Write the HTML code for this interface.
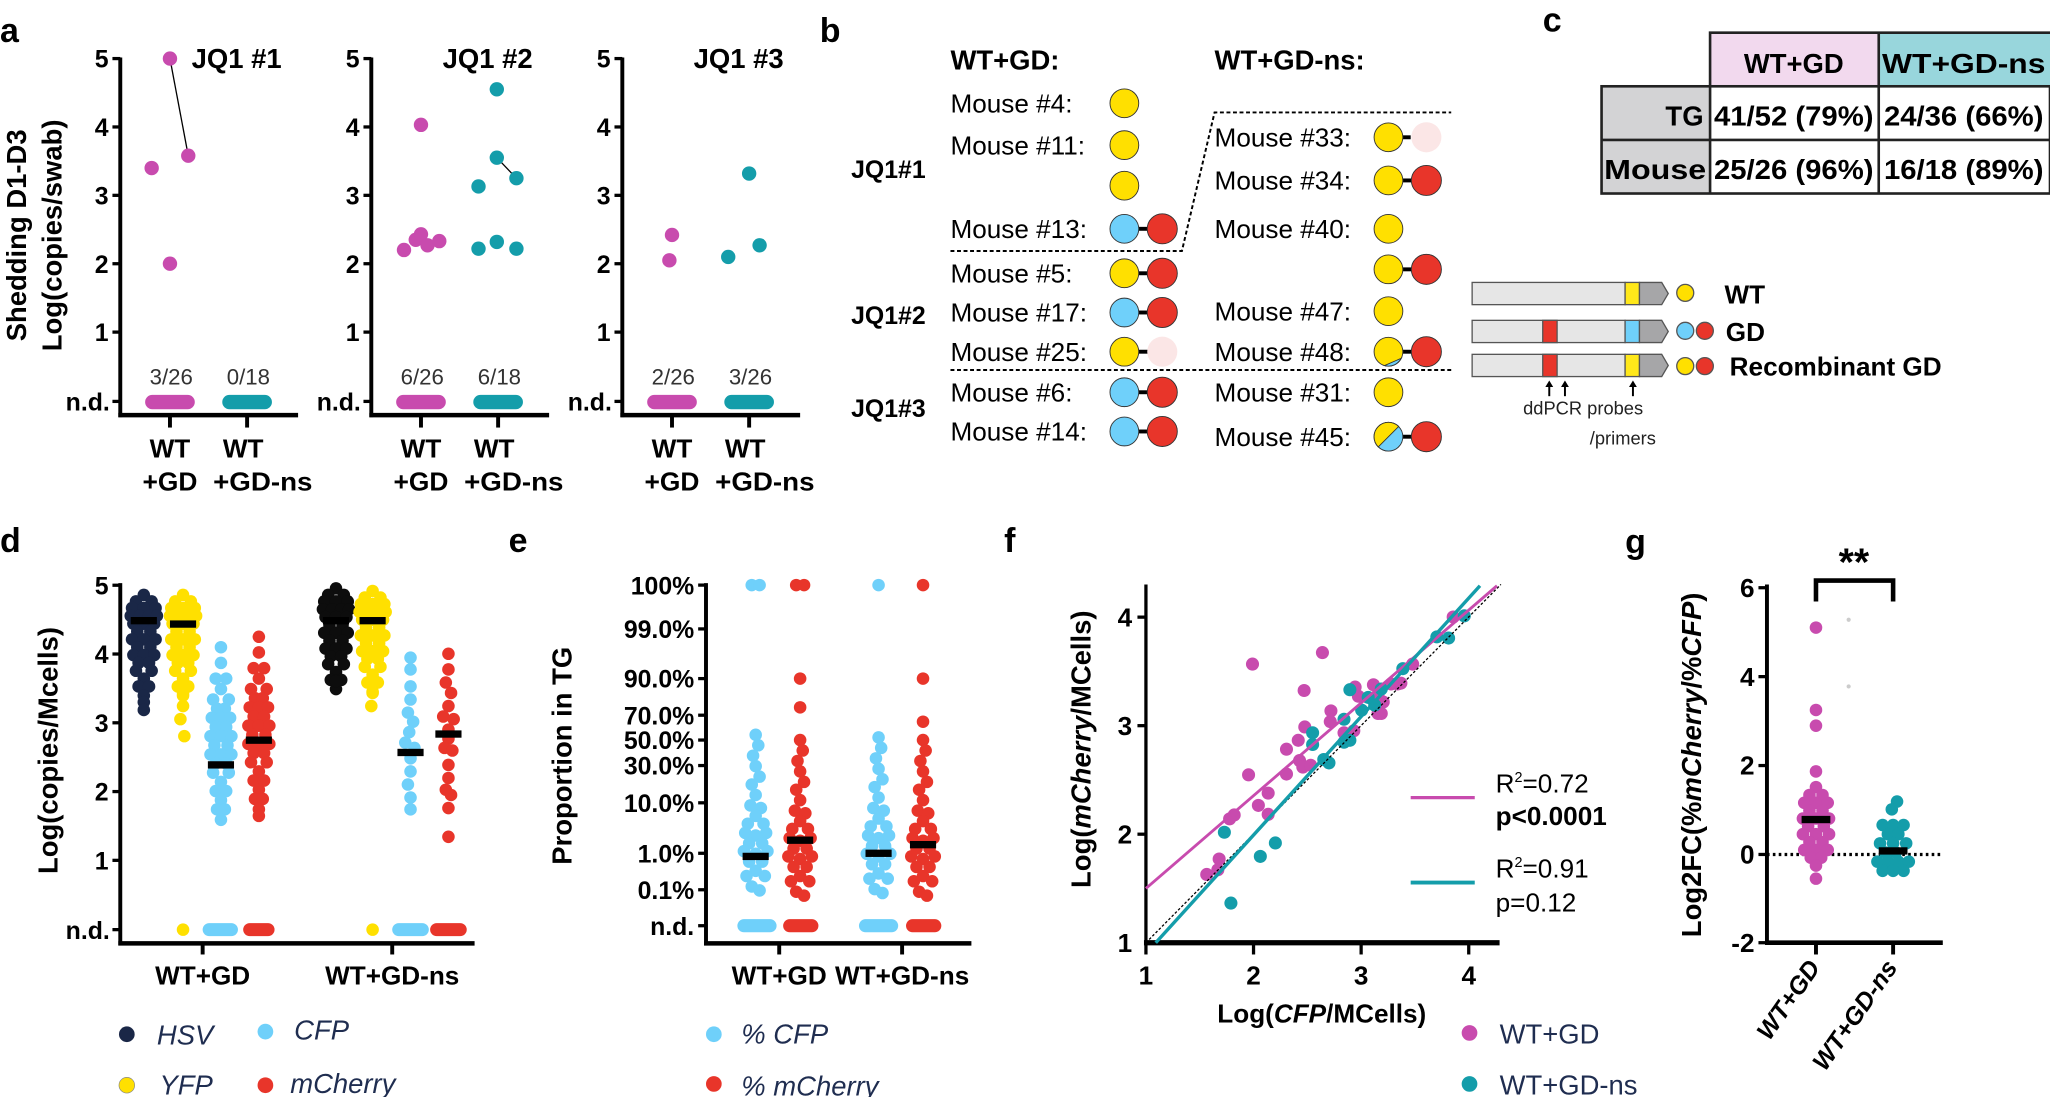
<!DOCTYPE html>
<html><head><meta charset="utf-8"><style>
html,body{margin:0;padding:0;background:#fff;}
svg{display:block;font-family:"Liberation Sans",Arial,sans-serif;}
.b{font-weight:bold;}
</style></head><body>
<svg width="2050" height="1097" viewBox="0 0 1568 839" preserveAspectRatio="none" xmlns="http://www.w3.org/2000/svg" xmlns:xlink="http://www.w3.org/1999/xlink">
<defs>
<g id="dense">
<circle cx="0" cy="0" r="4.8"/><circle cx="-6" cy="5" r="4.8"/><circle cx="6" cy="5" r="4.8"/><circle cx="-9" cy="10" r="4.8"/><circle cx="0" cy="10" r="4.8"/><circle cx="9" cy="10" r="4.8"/><circle cx="-10" cy="16" r="4.8"/><circle cx="-3" cy="16" r="4.8"/><circle cx="4" cy="16" r="4.8"/><circle cx="10" cy="16" r="4.8"/><circle cx="-8" cy="22" r="4.8"/><circle cx="0" cy="22" r="4.8"/><circle cx="8" cy="22" r="4.8"/><circle cx="-5" cy="28" r="4.8"/><circle cx="5" cy="28" r="4.8"/><circle cx="-9" cy="34" r="4.8"/><circle cx="0" cy="34" r="4.8"/><circle cx="9" cy="34" r="4.8"/><circle cx="-5" cy="40" r="4.8"/><circle cx="5" cy="40" r="4.8"/><circle cx="-8" cy="46" r="4.8"/><circle cx="0" cy="46" r="4.8"/><circle cx="8" cy="46" r="4.8"/><circle cx="-4" cy="52" r="4.8"/><circle cx="4" cy="52" r="4.8"/><circle cx="-6" cy="58" r="4.8"/><circle cx="6" cy="58" r="4.8"/><circle cx="0" cy="64" r="4.8"/><circle cx="-4" cy="70" r="4.8"/><circle cx="4" cy="70" r="4.8"/><circle cx="0" cy="77" r="4.8"/>
</g>
<g id="wide">
<circle cx="0" cy="0" r="4.8"/><circle cx="0" cy="12" r="4.8"/><circle cx="-4" cy="24" r="4.8"/><circle cx="4" cy="24" r="4.8"/><circle cx="0" cy="32" r="4.8"/><circle cx="-6" cy="40" r="4.8"/><circle cx="6" cy="40" r="4.8"/><circle cx="-3" cy="47" r="4.8"/><circle cx="3" cy="47" r="4.8"/><circle cx="-7" cy="54" r="4.8"/><circle cx="0" cy="54" r="4.8"/><circle cx="7" cy="54" r="4.8"/><circle cx="-4" cy="61" r="4.8"/><circle cx="4" cy="61" r="4.8"/><circle cx="-8" cy="68" r="4.8"/><circle cx="0" cy="68" r="4.8"/><circle cx="8" cy="68" r="4.8"/><circle cx="-5" cy="75" r="4.8"/><circle cx="5" cy="75" r="4.8"/><circle cx="-8" cy="82" r="4.8"/><circle cx="0" cy="82" r="4.8"/><circle cx="8" cy="82" r="4.8"/><circle cx="-4" cy="89" r="4.8"/><circle cx="4" cy="89" r="4.8"/><circle cx="-6" cy="96" r="4.8"/><circle cx="6" cy="96" r="4.8"/><circle cx="0" cy="103" r="4.8"/><circle cx="-4" cy="110" r="4.8"/><circle cx="4" cy="110" r="4.8"/><circle cx="0" cy="117" r="4.8"/><circle cx="-3" cy="124" r="4.8"/><circle cx="3" cy="124" r="4.8"/><circle cx="0" cy="132" r="4.8"/>
</g>
<g id="ep">
<circle cx="0" cy="0" r="4.8"/><circle cx="2" cy="8" r="4.8"/><circle cx="-2" cy="16" r="4.8"/><circle cx="0" cy="24" r="4.8"/><circle cx="3" cy="32" r="4.8"/><circle cx="-3" cy="38" r="4.8"/><circle cx="0" cy="46" r="4.8"/><circle cx="-4" cy="54" r="4.8"/><circle cx="4" cy="56" r="4.8"/><circle cx="0" cy="62" r="4.8"/><circle cx="-6" cy="68" r="4.8"/><circle cx="6" cy="68" r="4.8"/><circle cx="-8" cy="75" r="4.8"/><circle cx="0" cy="77" r="4.8"/><circle cx="8" cy="75" r="4.8"/><circle cx="-5" cy="83" r="4.8"/><circle cx="5" cy="83" r="4.8"/><circle cx="-9" cy="89" r="4.8"/><circle cx="0" cy="91" r="4.8"/><circle cx="9" cy="89" r="4.8"/><circle cx="-5" cy="97" r="4.8"/><circle cx="5" cy="97" r="4.8"/><circle cx="0" cy="104" r="4.8"/><circle cx="-7" cy="108" r="4.8"/><circle cx="7" cy="108" r="4.8"/><circle cx="-3" cy="116" r="4.8"/><circle cx="3" cy="119" r="4.8"/>
</g>
<g id="gp">
<circle cx="0" cy="0" r="4.8"/><circle cx="-5" cy="6" r="4.8"/><circle cx="5" cy="6" r="4.8"/><circle cx="-9" cy="12" r="4.8"/><circle cx="0" cy="12" r="4.8"/><circle cx="9" cy="12" r="4.8"/><circle cx="-5" cy="18" r="4.8"/><circle cx="5" cy="18" r="4.8"/><circle cx="-10" cy="24" r="4.8"/><circle cx="0" cy="24" r="4.8"/><circle cx="10" cy="24" r="4.8"/><circle cx="-6" cy="30" r="4.8"/><circle cx="6" cy="30" r="4.8"/><circle cx="-10" cy="36" r="4.8"/><circle cx="0" cy="36" r="4.8"/><circle cx="10" cy="36" r="4.8"/><circle cx="-5" cy="42" r="4.8"/><circle cx="5" cy="42" r="4.8"/><circle cx="-9" cy="48" r="4.8"/><circle cx="0" cy="48" r="4.8"/><circle cx="9" cy="48" r="4.8"/><circle cx="-4" cy="54" r="4.8"/><circle cx="4" cy="54" r="4.8"/><circle cx="0" cy="60" r="4.8"/><circle cx="0" cy="70" r="4.8"/>
</g>
</defs>

<!-- panel letters -->
<g class="b" font-size="26">
<text x="0" y="32">a</text><text x="627" y="32">b</text><text x="1180" y="24">c</text>
<text x="0" y="422">d</text><text x="389" y="422">e</text><text x="768" y="422">f</text><text x="1243" y="423">g</text>
</g>

<!-- ================= panel a ================= -->
<g class="b" font-size="21" text-anchor="middle">
<text x="20" y="180" transform="rotate(-90 20 180)">Shedding D1-D3</text>
<text x="47" y="180" transform="rotate(-90 47 180)">Log(copies/swab)</text>
<text x="181" y="52">JQ1 #1</text><text x="373" y="52">JQ1 #2</text><text x="565" y="52">JQ1 #3</text>
</g>
<g stroke="#000">
<line x1="92" y1="44" x2="92" y2="319" stroke-width="3"/><line x1="90.5" y1="317.5" x2="228" y2="317.5" stroke-width="3.5"/>
<line x1="130" y1="317" x2="130" y2="327" stroke-width="3"/><line x1="189" y1="317" x2="189" y2="327" stroke-width="3"/>
<line x1="284" y1="44" x2="284" y2="319" stroke-width="3"/><line x1="282.5" y1="317.5" x2="420" y2="317.5" stroke-width="3.5"/>
<line x1="322" y1="317" x2="322" y2="327" stroke-width="3"/><line x1="381" y1="317" x2="381" y2="327" stroke-width="3"/>
<line x1="476" y1="44" x2="476" y2="319" stroke-width="3"/><line x1="474.5" y1="317.5" x2="612" y2="317.5" stroke-width="3.5"/>
<line x1="514" y1="317" x2="514" y2="327" stroke-width="3"/><line x1="573" y1="317" x2="573" y2="327" stroke-width="3"/>
<g stroke-width="2.5">
<line x1="86" y1="44.8" x2="92" y2="44.8"/><line x1="86" y1="97.1" x2="92" y2="97.1"/><line x1="86" y1="149.4" x2="92" y2="149.4"/><line x1="86" y1="201.7" x2="92" y2="201.7"/><line x1="86" y1="254" x2="92" y2="254"/><line x1="86" y1="307" x2="92" y2="307"/>
<line x1="278" y1="44.8" x2="284" y2="44.8"/><line x1="278" y1="97.1" x2="284" y2="97.1"/><line x1="278" y1="149.4" x2="284" y2="149.4"/><line x1="278" y1="201.7" x2="284" y2="201.7"/><line x1="278" y1="254" x2="284" y2="254"/><line x1="278" y1="307" x2="284" y2="307"/>
<line x1="470" y1="44.8" x2="476" y2="44.8"/><line x1="470" y1="97.1" x2="476" y2="97.1"/><line x1="470" y1="149.4" x2="476" y2="149.4"/><line x1="470" y1="201.7" x2="476" y2="201.7"/><line x1="470" y1="254" x2="476" y2="254"/><line x1="470" y1="307" x2="476" y2="307"/>
</g>
<line x1="130" y1="44.8" x2="144" y2="119.1" stroke-width="1"/>
<line x1="380" y1="120.6" x2="395" y2="136.3" stroke-width="1"/>
</g>
<g class="b" font-size="19" text-anchor="end">
<text x="83" y="51.8">5</text><text x="83" y="104.1">4</text><text x="83" y="156.4">3</text><text x="83" y="208.7">2</text><text x="83" y="261">1</text><text x="84" y="314">n.d.</text>
<text x="275" y="51.8">5</text><text x="275" y="104.1">4</text><text x="275" y="156.4">3</text><text x="275" y="208.7">2</text><text x="275" y="261">1</text><text x="276" y="314">n.d.</text>
<text x="467" y="51.8">5</text><text x="467" y="104.1">4</text><text x="467" y="156.4">3</text><text x="467" y="208.7">2</text><text x="467" y="261">1</text><text x="468" y="314">n.d.</text>
</g>
<g class="b" font-size="20" text-anchor="middle">
<text x="130" y="350">WT</text><text x="186" y="350">WT</text><text x="130" y="375" textLength="42" lengthAdjust="spacingAndGlyphs">+GD</text><text x="201" y="375" textLength="76" lengthAdjust="spacingAndGlyphs">+GD-ns</text>
<text x="322" y="350">WT</text><text x="378" y="350">WT</text><text x="322" y="375" textLength="42" lengthAdjust="spacingAndGlyphs">+GD</text><text x="393" y="375" textLength="76" lengthAdjust="spacingAndGlyphs">+GD-ns</text>
<text x="514" y="350">WT</text><text x="570" y="350">WT</text><text x="514" y="375" textLength="42" lengthAdjust="spacingAndGlyphs">+GD</text><text x="585" y="375" textLength="76" lengthAdjust="spacingAndGlyphs">+GD-ns</text>
</g>
<g font-size="17" fill="#333" text-anchor="middle">
<text x="131" y="294">3/26</text><text x="190" y="294">0/18</text>
<text x="323" y="294">6/26</text><text x="382" y="294">6/18</text>
<text x="515" y="294">2/26</text><text x="574" y="294">3/26</text>
</g>
<g fill="#c84bae">
<rect x="111" y="302" width="38" height="11" rx="5.5"/><rect x="303" y="302" width="38" height="11" rx="5.5"/><rect x="495" y="302" width="38" height="11" rx="5.5"/>
<circle cx="130" cy="44.8" r="5.5"/><circle cx="144" cy="119.1" r="5.5"/><circle cx="116" cy="128.5" r="5.5"/><circle cx="130" cy="201.7" r="5.5"/>
<circle cx="322" cy="95.5" r="5.5"/><circle cx="309" cy="191.2" r="5.5"/><circle cx="318" cy="183.4" r="5.5"/><circle cx="322" cy="179.2" r="5.5"/><circle cx="327" cy="187.6" r="5.5"/><circle cx="336" cy="184.4" r="5.5"/>
<circle cx="514" cy="179.7" r="5.5"/><circle cx="512" cy="199.1" r="5.5"/>
</g>
<g fill="#149daa">
<rect x="170" y="302" width="38" height="11" rx="5.5"/><rect x="362" y="302" width="38" height="11" rx="5.5"/><rect x="554" y="302" width="38" height="11" rx="5.5"/>
<circle cx="380" cy="68.3" r="5.5"/><circle cx="380" cy="120.6" r="5.5"/><circle cx="395" cy="136.3" r="5.5"/><circle cx="366" cy="142.6" r="5.5"/><circle cx="366" cy="190.2" r="5.5"/><circle cx="380" cy="185" r="5.5"/><circle cx="395" cy="190.2" r="5.5"/>
<circle cx="573" cy="132.7" r="5.5"/><circle cx="557" cy="196.5" r="5.5"/><circle cx="581" cy="187.6" r="5.5"/>
</g>

<!-- ================= panel b ================= -->
<g class="b" font-size="21"><text x="727" y="53">WT+GD:</text><text x="929" y="53">WT+GD-ns:</text>
<text x="651" y="136" font-size="19">JQ1#1</text><text x="651" y="248" font-size="19">JQ1#2</text><text x="651" y="319" font-size="19">JQ1#3</text></g>
<g font-size="20">
<text x="727" y="86">Mouse #4:</text><text x="727" y="118">Mouse #11:</text><text x="727" y="182">Mouse #13:</text>
<text x="727" y="216">Mouse #5:</text><text x="727" y="246">Mouse #17:</text><text x="727" y="276">Mouse #25:</text>
<text x="727" y="307">Mouse #6:</text><text x="727" y="337">Mouse #14:</text>
<text x="929" y="112">Mouse #33:</text><text x="929" y="145">Mouse #34:</text><text x="929" y="182">Mouse #40:</text>
<text x="929" y="245">Mouse #47:</text><text x="929" y="276">Mouse #48:</text><text x="929" y="307">Mouse #31:</text><text x="929" y="341">Mouse #45:</text>
</g>
<g stroke="#000" stroke-width="1.5" stroke-dasharray="3,2" fill="none">
<polyline points="727,192 904,192 929,86 1110,86"/>
<line x1="727" y1="283" x2="1110" y2="283"/>
</g>
<g stroke="#000" stroke-width="3">
<line x1="870" y1="175" x2="880" y2="175"/><line x1="870" y1="209" x2="880" y2="209"/><line x1="870" y1="239" x2="880" y2="239"/><line x1="870" y1="269" x2="878" y2="269"/><line x1="870" y1="300" x2="880" y2="300"/><line x1="870" y1="330" x2="880" y2="330"/>
<line x1="1072" y1="105" x2="1079" y2="105"/><line x1="1072" y1="138" x2="1082" y2="138"/><line x1="1072" y1="206" x2="1082" y2="206"/><line x1="1072" y1="269" x2="1082" y2="269"/><line x1="1072" y1="334" x2="1082" y2="334"/>
</g>
<g stroke="#333" stroke-width="0.7">
<g fill="#ffe000">
<circle cx="860" cy="79" r="11"/><circle cx="860" cy="111" r="11"/><circle cx="860" cy="142" r="11"/><circle cx="860" cy="209" r="11"/><circle cx="860" cy="269" r="11"/>
<circle cx="1062" cy="105" r="11"/><circle cx="1062" cy="138" r="11"/><circle cx="1062" cy="175" r="11"/><circle cx="1062" cy="206" r="11"/><circle cx="1062" cy="238" r="11"/><circle cx="1062" cy="269" r="11"/><circle cx="1062" cy="300" r="11"/>
</g>
<g fill="#6fd0fa">
<circle cx="860" cy="175" r="11"/><circle cx="860" cy="239" r="11"/><circle cx="860" cy="300" r="11"/><circle cx="860" cy="330" r="11"/><circle cx="1062" cy="334" r="11"/>
</g>
<path d="M1059,279.6 L1071.8,274 A11,11 0 0 1 1059,279.6 Z" fill="#6fd0fa"/>
<path d="M1054.2,341.8 L1069.8,326.2 A11,11 0 0 0 1054.2,341.8 Z" fill="#ffe000"/>
<g fill="#e8352a">
<circle cx="889" cy="175" r="11.5"/><circle cx="889" cy="209" r="11.5"/><circle cx="889" cy="239" r="11.5"/><circle cx="889" cy="300" r="11.5"/><circle cx="889" cy="330" r="11.5"/>
<circle cx="1091" cy="138" r="11.5"/><circle cx="1091" cy="206" r="11.5"/><circle cx="1091" cy="269" r="11.5"/><circle cx="1091" cy="334" r="11.5"/>
</g>
</g>
<circle cx="889" cy="269" r="11.5" fill="#fbe6e6"/><circle cx="1091" cy="105" r="11.5" fill="#fbe6e6"/>

<!-- gene diagrams -->
<g stroke="#555" stroke-width="1">
<rect x="1126" y="216" width="117" height="17" fill="#e6e6e6"/><rect x="1126" y="245" width="117" height="17" fill="#e6e6e6"/><rect x="1126" y="271" width="117" height="17" fill="#e6e6e6"/>
<rect x="1180" y="245" width="11" height="17" fill="#e8352a"/><rect x="1180" y="271" width="11" height="17" fill="#e8352a"/>
<rect x="1243" y="216" width="11" height="17" fill="#ffe81a"/><rect x="1243" y="245" width="11" height="17" fill="#6fd0fa"/><rect x="1243" y="271" width="11" height="17" fill="#ffe81a"/>
<polygon points="1254,216 1271,216 1276,224.5 1271,233 1254,233" fill="#a6a6a8"/>
<polygon points="1254,245 1271,245 1276,253.5 1271,262 1254,262" fill="#a6a6a8"/>
<polygon points="1254,271 1271,271 1276,279.5 1271,288 1254,288" fill="#a6a6a8"/>
<circle cx="1289" cy="224" r="6.5" fill="#ffe000"/>
<circle cx="1289" cy="253" r="6.5" fill="#6fd0fa"/><circle cx="1304" cy="253" r="6.5" fill="#e8352a"/>
<circle cx="1289" cy="280" r="6.5" fill="#ffe000"/><circle cx="1304" cy="280" r="6.5" fill="#e8352a"/>
</g>
<g class="b" font-size="20"><text x="1319" y="232">WT</text><text x="1320" y="261">GD</text><text x="1323" y="287">Recombinant GD</text></g>
<g stroke="#000" stroke-width="1.5"><line x1="1185" y1="294" x2="1185" y2="303"/><line x1="1197" y1="294" x2="1197" y2="303"/><line x1="1249" y1="294" x2="1249" y2="303"/></g>
<g fill="#000"><polygon points="1182,296 1185,291 1188,296"/><polygon points="1194,296 1197,291 1200,296"/><polygon points="1246,296 1249,291 1252,296"/></g>
<g font-size="14" fill="#222"><text x="1165" y="317">ddPCR probes</text><text x="1216" y="340">/primers</text></g>

<!-- ================= panel c ================= -->
<rect x="1308" y="25" width="129" height="41" fill="#f2d9ee"/><rect x="1437" y="25" width="131" height="41" fill="#98d6dc"/>
<rect x="1225" y="66" width="83" height="82" fill="#d3d3d5"/>
<g stroke="#222" stroke-width="2" fill="none">
<polyline points="1308,66 1308,25 1568,25"/><line x1="1437" y1="25" x2="1437" y2="148"/>
<rect x="1225" y="66" width="343" height="82"/><line x1="1225" y1="107" x2="1568" y2="107"/><line x1="1308" y1="66" x2="1308" y2="148"/>
</g>
<g class="b" font-size="21" text-anchor="middle">
<text x="1372" y="56">WT+GD</text><text x="1502" y="56" textLength="125" lengthAdjust="spacingAndGlyphs">WT+GD-ns</text>
<text x="1303" y="96" text-anchor="end">TG</text><text x="1266" y="137" textLength="78" lengthAdjust="spacingAndGlyphs">Mouse</text>
<text x="1372" y="96" textLength="122" lengthAdjust="spacingAndGlyphs">41/52 (79%)</text><text x="1502" y="96" textLength="122" lengthAdjust="spacingAndGlyphs">24/36 (66%)</text>
<text x="1372" y="137" textLength="122" lengthAdjust="spacingAndGlyphs">25/26 (96%)</text><text x="1502" y="137" textLength="122" lengthAdjust="spacingAndGlyphs">16/18 (89%)</text>
</g>

<!-- axis titles bottom row -->
<g class="b" font-size="21" text-anchor="middle">
<text x="44" y="574" transform="rotate(-90 44 574)">Log(copies/Mcells)</text>
<text x="437" y="578" transform="rotate(-90 437 578)">Proportion in TG</text>
<text x="834" y="573" transform="rotate(-90 834 573)">Log(<tspan font-style="italic">mCherry</tspan>/MCells)</text>
<text x="1301" y="585" transform="rotate(-90 1301 585)">Log2FC(%<tspan font-style="italic">mCherry</tspan>/%<tspan font-style="italic">CFP</tspan>)</text>
</g>
<g class="b" font-size="20" text-anchor="middle">
<text x="155" y="753">WT+GD</text><text x="300" y="753">WT+GD-ns</text>
<text x="596" y="753">WT+GD</text><text x="690" y="753">WT+GD-ns</text>
<text x="1011" y="782">Log(<tspan font-style="italic">CFP</tspan>/MCells)</text>
<text x="1418" y="440" font-size="30">**</text>
</g>
<g class="b" font-size="19" font-style="italic" text-anchor="end">
<text x="1393" y="740" transform="rotate(-55 1393 740)">WT+GD</text>
<text x="1452" y="740" transform="rotate(-55 1452 740)">WT+GD-ns</text>
</g>
<g font-size="21" font-style="italic" fill="#1f2d50">
<circle cx="97" cy="791" r="6" fill="#1a2747"/><text x="120" y="799">HSV</text>
<circle cx="203" cy="789" r="6" fill="#6fd0fa"/><text x="225" y="795">CFP</text>
<circle cx="97" cy="830" r="6" fill="#ffe000" stroke="#888" stroke-width="0.5"/><text x="122" y="837">YFP</text>
<circle cx="203" cy="830" r="6" fill="#e8352a"/><text x="222" y="836">mCherry</text>
<circle cx="546" cy="791" r="6" fill="#6fd0fa"/><text x="567" y="798">% CFP</text>
<circle cx="546" cy="829" r="6" fill="#e8352a"/><text x="567" y="838">% mCherry</text>
</g>
<g font-size="21" fill="#1f2d50">
<circle cx="1124" cy="790" r="6" fill="#c84bae"/><text x="1147" y="798">WT+GD</text>
<circle cx="1124" cy="829" r="6" fill="#149daa"/><text x="1147" y="837">WT+GD-ns</text>
</g>

<!-- ================= panel d ================= -->
<g stroke="#000">
<line x1="92" y1="446" x2="92" y2="723" stroke-width="3"/><line x1="90.5" y1="721.5" x2="363" y2="721.5" stroke-width="3.5"/>
<line x1="155" y1="721" x2="155" y2="730" stroke-width="3"/><line x1="300" y1="721" x2="300" y2="730" stroke-width="3"/>
<g stroke-width="2.5"><line x1="86" y1="447.6" x2="92" y2="447.6"/><line x1="86" y1="500.2" x2="92" y2="500.2"/><line x1="86" y1="552.8" x2="92" y2="552.8"/><line x1="86" y1="605.4" x2="92" y2="605.4"/><line x1="86" y1="658" x2="92" y2="658"/><line x1="86" y1="711" x2="92" y2="711"/></g>
</g>
<g class="b" font-size="19" text-anchor="end">
<text x="83" y="454.6">5</text><text x="83" y="507.2">4</text><text x="83" y="559.8">3</text><text x="83" y="612.4">2</text><text x="83" y="665">1</text><text x="84" y="718">n.d.</text>
</g>
<g fill="#1a2747"><use xlink:href="#dense" href="#dense" transform="translate(110,455)"/><circle cx="110" cy="537" r="4.8"/><circle cx="110" cy="543" r="4.8"/></g>
<g fill="#ffe000"><use xlink:href="#dense" href="#dense" transform="translate(140,455)"/><circle cx="140" cy="530" r="4.8"/><circle cx="140" cy="540" r="4.8"/><circle cx="138" cy="550" r="4.8"/><circle cx="141" cy="563" r="4.8"/><circle cx="140" cy="711" r="4.8"/></g>
<g fill="#6fd0fa"><use xlink:href="#wide" href="#wide" transform="translate(169,495)"/><rect x="155" y="706" width="27" height="10" rx="5"/></g>
<g fill="#e8352a"><use xlink:href="#wide" href="#wide" transform="translate(198,487)"/><circle cx="198" cy="624" r="4.8"/><rect x="186" y="706" width="24" height="10" rx="5"/></g>
<g fill="#0d0d0d"><use xlink:href="#dense" href="#dense" transform="translate(257,450)"/><circle cx="257" cy="521" r="4.8"/></g>
<g fill="#ffe000"><use xlink:href="#dense" href="#dense" transform="translate(285,452)"/><circle cx="286" cy="520" r="4.8"/><circle cx="285" cy="530" r="4.8"/><circle cx="284" cy="540" r="4.8"/><circle cx="285" cy="711" r="4.8"/></g>
<g fill="#6fd0fa">
<circle cx="314" cy="503" r="4.8"/><circle cx="314" cy="512" r="4.8"/><circle cx="314" cy="525" r="4.8"/><circle cx="314" cy="535" r="4.8"/><circle cx="312" cy="545" r="4.8"/><circle cx="316" cy="552" r="4.8"/><circle cx="313" cy="560" r="4.8"/><circle cx="310" cy="568" r="4.8"/><circle cx="317" cy="572" r="4.8"/><circle cx="314" cy="580" r="4.8"/><circle cx="314" cy="590" r="4.8"/><circle cx="312" cy="600" r="4.8"/><circle cx="314" cy="610" r="4.8"/><circle cx="314" cy="619" r="4.8"/>
<rect x="300" y="706" width="28" height="10" rx="5"/></g>
<g fill="#e8352a">
<circle cx="343" cy="500" r="4.8"/><circle cx="343" cy="512" r="4.8"/><circle cx="341" cy="522" r="4.8"/><circle cx="345" cy="530" r="4.8"/><circle cx="343" cy="540" r="4.8"/><circle cx="339" cy="548" r="4.8"/><circle cx="347" cy="550" r="4.8"/><circle cx="343" cy="558" r="4.8"/><circle cx="343" cy="565" r="4.8"/><circle cx="340" cy="572" r="4.8"/><circle cx="346" cy="574" r="4.8"/><circle cx="343" cy="585" r="4.8"/><circle cx="343" cy="595" r="4.8"/><circle cx="341" cy="604" r="4.8"/><circle cx="345" cy="608" r="4.8"/><circle cx="343" cy="618" r="4.8"/><circle cx="343" cy="640" r="4.8"/>
<rect x="329" y="706" width="28" height="10" rx="5"/></g>
<g fill="#000">
<rect x="100" y="471.9" width="20" height="5.6"/><rect x="130" y="474.5" width="20" height="5.6"/><rect x="159" y="582.2" width="20" height="5.6"/><rect x="188" y="563.3" width="20" height="5.6"/>
<rect x="247" y="471.9" width="20" height="5.6"/><rect x="275" y="471.9" width="20" height="5.6"/><rect x="304" y="572.7" width="20" height="5.6"/><rect x="333" y="558.6" width="20" height="5.6"/>
</g>

<!-- ================= panel e ================= -->
<g stroke="#000">
<line x1="540" y1="446" x2="540" y2="723" stroke-width="3"/><line x1="538.5" y1="721.5" x2="743" y2="721.5" stroke-width="3.5"/>
<line x1="596" y1="721" x2="596" y2="730" stroke-width="3"/><line x1="690" y1="721" x2="690" y2="730" stroke-width="3"/>
<g stroke-width="2.5"><line x1="534" y1="447.5" x2="540" y2="447.5"/><line x1="534" y1="481" x2="540" y2="481"/><line x1="534" y1="519" x2="540" y2="519"/><line x1="534" y1="547" x2="540" y2="547"/><line x1="534" y1="566" x2="540" y2="566"/><line x1="534" y1="585.5" x2="540" y2="585.5"/><line x1="534" y1="614" x2="540" y2="614"/><line x1="534" y1="652.6" x2="540" y2="652.6"/><line x1="534" y1="680.5" x2="540" y2="680.5"/><line x1="534" y1="708" x2="540" y2="708"/></g>
</g>
<g class="b" font-size="19" text-anchor="end">
<text x="531" y="454.5">100%</text><text x="531" y="488">99.0%</text><text x="531" y="526">90.0%</text><text x="531" y="554">70.0%</text><text x="531" y="573">50.0%</text><text x="531" y="592.5">30.0%</text><text x="531" y="621">10.0%</text><text x="531" y="659.6">1.0%</text><text x="531" y="687.5">0.1%</text><text x="531" y="715">n.d.</text>
</g>
<g fill="#6fd0fa"><use xlink:href="#ep" href="#ep" transform="translate(578,562)"/><use xlink:href="#ep" href="#ep" transform="translate(672,564)"/>
<circle cx="575" cy="447.5" r="4.8"/><circle cx="581" cy="447.5" r="4.8"/><circle cx="672" cy="447.5" r="4.8"/>
<rect x="564" y="703" width="30" height="10" rx="5"/><rect x="657" y="703" width="30" height="10" rx="5"/></g>
<g fill="#e8352a"><use xlink:href="#ep" href="#ep" transform="translate(612,566)"/><use xlink:href="#ep" href="#ep" transform="translate(706,566)"/>
<circle cx="609" cy="447.5" r="4.8"/><circle cx="615" cy="447.5" r="4.8"/><circle cx="612" cy="519" r="4.8"/><circle cx="612" cy="541" r="4.8"/>
<circle cx="706" cy="447.5" r="4.8"/><circle cx="706" cy="519" r="4.8"/><circle cx="706" cy="552" r="4.8"/>
<rect x="599" y="703" width="27" height="10" rx="5"/><rect x="693" y="703" width="27" height="10" rx="5"/></g>
<g fill="#000">
<rect x="568" y="652.2" width="20" height="5.6"/><rect x="602" y="639.8" width="20" height="5.6"/><rect x="662" y="649.8" width="20" height="5.6"/><rect x="696" y="643.2" width="20" height="5.6"/>
</g>

<!-- ================= panel f ================= -->
<g stroke="#000">
<line x1="876.5" y1="447" x2="876.5" y2="722" stroke-width="2.5"/><line x1="875" y1="721" x2="1147" y2="721" stroke-width="4"/>
<g stroke-width="2.5"><line x1="876.5" y1="721" x2="876.5" y2="730"/><line x1="958.8" y1="721" x2="958.8" y2="730"/><line x1="1041.1" y1="721" x2="1041.1" y2="730"/><line x1="1123.4" y1="721" x2="1123.4" y2="730"/>
<line x1="870" y1="472" x2="876.5" y2="472"/><line x1="870" y1="555" x2="876.5" y2="555"/><line x1="870" y1="638" x2="876.5" y2="638"/></g>
</g>
<g class="b" font-size="20" text-anchor="middle"><text x="876.5" y="753">1</text><text x="958.8" y="753">2</text><text x="1041.1" y="753">3</text><text x="1123.4" y="753">4</text></g>
<g class="b" font-size="20" text-anchor="end"><text x="866" y="479">4</text><text x="866" y="562">3</text><text x="866" y="645">2</text><text x="866" y="728">1</text></g>
<g fill="#c84bae">
<circle cx="1111.5" cy="471.9" r="5"/><circle cx="1080.5" cy="507.9" r="5"/><circle cx="1011.5" cy="499.1" r="5"/><circle cx="958" cy="507.9" r="5"/><circle cx="997.5" cy="528.1" r="5"/><circle cx="1050.5" cy="523.7" r="5"/><circle cx="1069" cy="523.1" r="5"/><circle cx="1054" cy="531.9" r="5"/><circle cx="1058" cy="536.9" r="5"/><circle cx="1039" cy="532.5" r="5"/><circle cx="1036.5" cy="525.5" r="5"/><circle cx="1018" cy="543.7" r="5"/><circle cx="1017.5" cy="551.9" r="5"/><circle cx="998" cy="556" r="5"/><circle cx="993" cy="566.2" r="5"/><circle cx="984" cy="573" r="5"/><circle cx="1028" cy="560.4" r="5"/><circle cx="1035.5" cy="558.9" r="5"/><circle cx="1054" cy="545.7" r="5"/><circle cx="1056.5" cy="545.7" r="5"/><circle cx="994" cy="581.7" r="5"/><circle cx="996.5" cy="586.7" r="5"/><circle cx="1002.5" cy="585.3" r="5"/><circle cx="984" cy="592" r="5"/><circle cx="955" cy="592.6" r="5"/><circle cx="970" cy="606.6" r="5"/><circle cx="962.5" cy="616" r="5"/><circle cx="970" cy="622.8" r="5"/><circle cx="944" cy="623.3" r="5"/><circle cx="940.5" cy="626.3" r="5"/><circle cx="932.5" cy="657" r="5"/><circle cx="931.5" cy="665.2" r="5"/><circle cx="923" cy="668.8" r="5"/><circle cx="1064" cy="523.1" r="5"/><circle cx="1071.5" cy="522.5" r="5"/>
</g>
<g fill="#149daa">
<circle cx="1120" cy="471" r="5"/><circle cx="1108" cy="488" r="5"/><circle cx="1099" cy="487.1" r="5"/><circle cx="1073" cy="511.4" r="5"/><circle cx="1032.5" cy="527.5" r="5"/><circle cx="1046.5" cy="533.4" r="5"/><circle cx="1041.5" cy="543.1" r="5"/><circle cx="1051.5" cy="539.3" r="5"/><circle cx="1056.5" cy="527" r="5"/><circle cx="1028" cy="550.1" r="5"/><circle cx="1004" cy="560.4" r="5"/><circle cx="1004" cy="569.4" r="5"/><circle cx="1032.5" cy="566.2" r="5"/><circle cx="1028" cy="567.7" r="5"/><circle cx="1012.5" cy="580.9" r="5"/><circle cx="1016.5" cy="583.5" r="5"/><circle cx="936.5" cy="636.5" r="5"/><circle cx="975.5" cy="644.7" r="5"/><circle cx="964" cy="655" r="5"/><circle cx="941.5" cy="690.7" r="5"/>
</g>
<line x1="876.5" y1="721" x2="1148" y2="447" stroke="#000" stroke-width="1" stroke-dasharray="2,1.5"/>
<line x1="876.5" y1="679.5" x2="1145" y2="448" stroke="#c84bae" stroke-width="2.2"/>
<line x1="884" y1="721" x2="1132" y2="448" stroke="#149daa" stroke-width="2.6"/>
<g font-size="20">
<text x="1144" y="606">R<tspan font-size="11" dy="-8">2</tspan><tspan dy="8">=0.72</tspan></text>
<text x="1144" y="631" class="b">p&lt;0.0001</text>
<text x="1144" y="671">R<tspan font-size="11" dy="-8">2</tspan><tspan dy="8">=0.91</tspan></text>
<text x="1144" y="697">p=0.12</text>
</g>
<line x1="1079" y1="610" x2="1128" y2="610" stroke="#c84bae" stroke-width="2.5"/>
<line x1="1079" y1="675" x2="1128" y2="675" stroke="#149daa" stroke-width="3"/>

<!-- ================= panel g ================= -->
<g stroke="#000">
<line x1="1351.5" y1="447" x2="1351.5" y2="722" stroke-width="3"/><line x1="1350" y1="721" x2="1486" y2="721" stroke-width="3.5"/>
<line x1="1389" y1="721" x2="1389" y2="730" stroke-width="3"/><line x1="1448" y1="721" x2="1448" y2="730" stroke-width="3"/>
<g stroke-width="2.5"><line x1="1345" y1="449.5" x2="1351.5" y2="449.5"/><line x1="1345" y1="517.5" x2="1351.5" y2="517.5"/><line x1="1345" y1="585.5" x2="1351.5" y2="585.5"/><line x1="1345" y1="653.5" x2="1351.5" y2="653.5"/><line x1="1345" y1="721" x2="1351.5" y2="721"/></g>
<line x1="1351.5" y1="653.5" x2="1486" y2="653.5" stroke-width="2.5" stroke-dasharray="2,2.5"/>
<polyline points="1389,460 1389,444 1448,444 1448,460" fill="none" stroke-width="3.5"/>
</g>
<g class="b" font-size="20" text-anchor="end"><text x="1342" y="456.5">6</text><text x="1342" y="524.5">4</text><text x="1342" y="592.5">2</text><text x="1342" y="660.5">0</text><text x="1342" y="728">-2</text></g>
<circle cx="1414" cy="474" r="1.6" fill="#ccc"/><circle cx="1414" cy="525" r="1.6" fill="#ccc"/>
<g fill="#c84bae"><use xlink:href="#gp" href="#gp" transform="translate(1389,602)"/>
<circle cx="1389" cy="480" r="4.8"/><circle cx="1389" cy="543" r="4.8"/><circle cx="1389" cy="555" r="4.8"/><circle cx="1389" cy="590" r="4.8"/></g>
<g fill="#149daa">
<circle cx="1451" cy="613" r="4.8"/><circle cx="1447" cy="619" r="4.8"/><circle cx="1440" cy="631" r="4.8"/><circle cx="1448" cy="631" r="4.8"/><circle cx="1456" cy="631" r="4.8"/><circle cx="1444" cy="638" r="4.8"/><circle cx="1452" cy="638" r="4.8"/><circle cx="1438" cy="645" r="4.8"/><circle cx="1448" cy="645" r="4.8"/><circle cx="1458" cy="645" r="4.8"/><circle cx="1442" cy="652" r="4.8"/><circle cx="1450" cy="652" r="4.8"/><circle cx="1436" cy="659" r="4.8"/><circle cx="1444" cy="659" r="4.8"/><circle cx="1452" cy="659" r="4.8"/><circle cx="1460" cy="659" r="4.8"/><circle cx="1440" cy="666" r="4.8"/><circle cx="1456" cy="666" r="4.8"/><circle cx="1448" cy="666" r="4.8"/>
</g>
<g fill="#000"><rect x="1378" y="624" width="22" height="5.6"/><rect x="1437" y="648" width="22" height="5.6"/></g>
</svg>
</body></html>
